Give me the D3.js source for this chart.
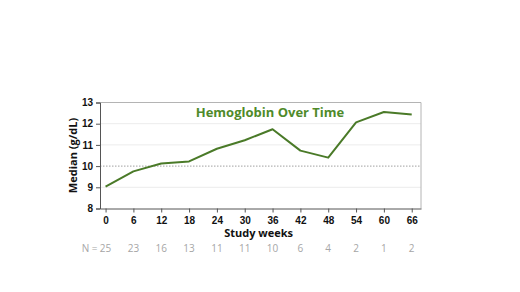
<!DOCTYPE html>
<html lang="en">
<head>
<meta charset="UTF-8">
<title>Hemoglobin Over Time</title>
<script src="https://d3js.org/d3.v7.min.js"></script>
<style>
  body { margin: 0; background: #fff; }
  svg { display: block; font-family: "Open Sans", "Noto Sans", sans-serif; }
</style>
</head>
<body>
<svg id="chart" width="520" height="292"></svg>
<script>
const weeks = [0, 6, 12, 18, 24, 30, 36, 42, 48, 54, 60, 66];
const medians = [9.03, 9.75, 10.12, 10.22, 10.82, 11.22, 11.74, 10.73, 10.4, 12.06, 12.55, 12.43];
const counts = [25, 23, 16, 13, 11, 11, 10, 6, 4, 2, 1, 2];
const yTicks = [8, 9, 10, 11, 12, 13];

const svg = d3.select("#chart");
const plotL = 100, plotR = 421, plotT = 102.5, plotB = 208.5;

const x = d3.scaleLinear().domain([-1.2, 68]).range([plotL, plotR]);
const y = d3.scaleLinear().domain([8, 13]).range([plotB, plotT]);

// gridlines
svg.append("g")
  .selectAll("line")
  .data([9, 11, 12])
  .join("line")
    .attr("x1", plotL).attr("x2", plotR)
    .attr("y1", d => y(d)).attr("y2", d => y(d))
    .attr("stroke", "#ececec").attr("stroke-width", 1);

// reference line at 10
svg.append("line")
  .attr("x1", plotL).attr("x2", plotR)
  .attr("y1", y(10)).attr("y2", y(10))
  .attr("stroke", "#a0a0a0").attr("stroke-width", 1)
  .attr("stroke-dasharray", "1.5,1.5");

// plot border (top/right)
svg.append("path")
  .attr("d", `M${plotL},${plotT}H${plotR}V${plotB}`)
  .attr("fill", "none").attr("stroke", "#b4b4b4").attr("stroke-width", 1);

// y axis
const yAxis = svg.append("g")
  .attr("transform", `translate(${plotL},0)`)
  .call(d3.axisLeft(y).tickValues(yTicks).tickFormat(d3.format("d")).tickSize(4).tickPadding(3));
yAxis.select(".domain").attr("stroke", "#555");
yAxis.selectAll(".tick line").attr("stroke", "#555");
yAxis.selectAll("text").attr("font-size", 10).attr("font-weight", "bold").attr("fill", "#111");

// x axis
const xAxis = svg.append("g")
  .attr("transform", `translate(0,${plotB})`)
  .call(d3.axisBottom(x).tickValues(weeks).tickSize(4).tickPadding(4).tickSizeOuter(0));
xAxis.select(".domain").attr("stroke", "#555");
xAxis.selectAll(".tick line").attr("stroke", "#555");
xAxis.selectAll("text").attr("font-size", 10).attr("font-weight", "bold").attr("fill", "#111");

// data line
svg.append("path")
  .datum(weeks.map((w, i) => [w, medians[i]]))
  .attr("fill", "none")
  .attr("stroke", "#4a7a28")
  .attr("stroke-width", 2)
  .attr("stroke-linejoin", "round")
  .attr("d", d3.line().x(d => x(d[0])).y(d => y(d[1])));

// title
svg.append("text")
  .attr("x", 270).attr("y", 117)
  .attr("text-anchor", "middle")
  .attr("font-size", 13).attr("font-weight", "bold")
  .attr("fill", "#4f8a2a")
  .text("Hemoglobin Over Time");

// axis titles
svg.append("text")
  .attr("transform", `translate(77,${(plotT + plotB) / 2}) rotate(-90)`)
  .attr("text-anchor", "middle")
  .attr("font-size", 11).attr("font-weight", "bold").attr("fill", "#111")
  .text("Median (g/dL)");

svg.append("text")
  .attr("x", x(33)).attr("y", 237)
  .attr("text-anchor", "middle")
  .attr("font-size", 11).attr("font-weight", "bold").attr("fill", "#111")
  .text("Study weeks");

// N row
svg.append("text")
  .attr("x", x(0) - 8).attr("y", 252)
  .attr("text-anchor", "end")
  .attr("font-size", 10).attr("fill", "#a6a6a6")
  .text("N =");
svg.append("g")
  .selectAll("text")
  .data(counts)
  .join("text")
    .attr("x", (d, i) => x(weeks[i]))
    .attr("y", 252)
    .attr("text-anchor", "middle")
    .attr("font-size", 10).attr("fill", "#a6a6a6")
    .text(d => d);
</script>
</body>
</html>
